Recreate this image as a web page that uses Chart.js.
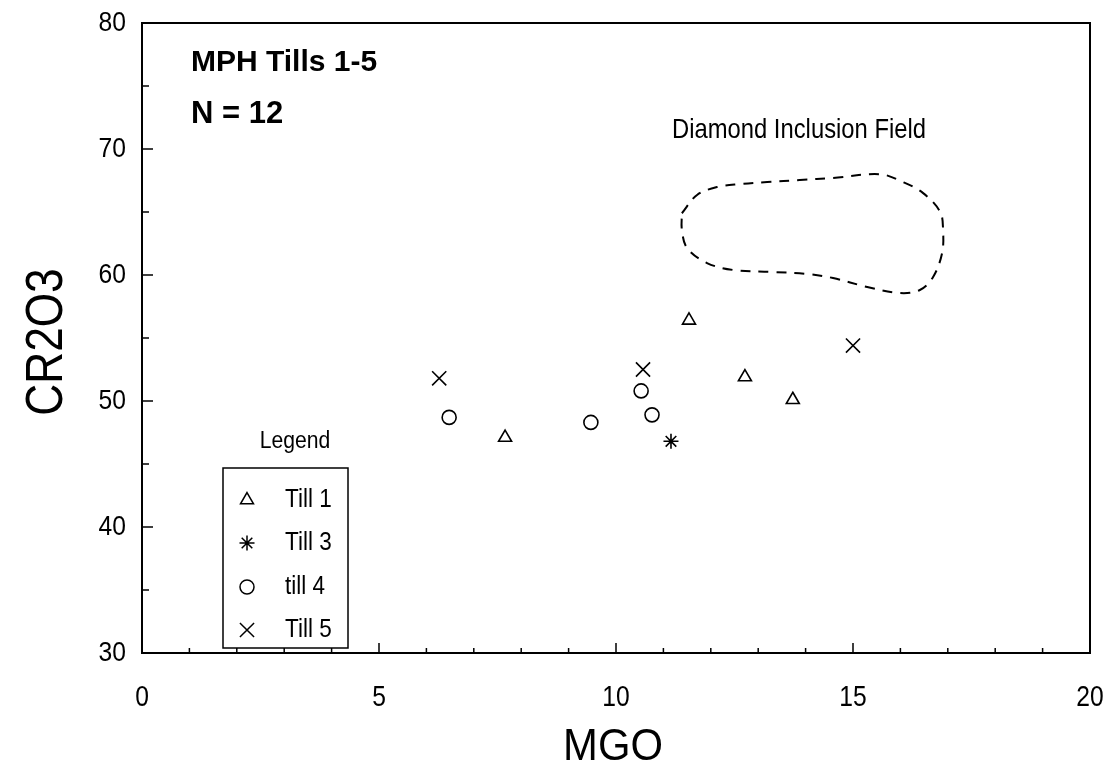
<!DOCTYPE html>
<html>
<head>
<meta charset="utf-8">
<script src="https://cdn.jsdelivr.net/npm/chart.js@4.4.1/dist/chart.umd.min.js"></script>
<style>
  html, body { margin: 0; padding: 0; background: #fff; }
  #wrap { width: 1120px; height: 774px; }
</style>
</head>
<body>
<div id="wrap"><canvas id="myChart" width="1120" height="774"></canvas></div>
<script>
// values
const xTicks = [0, 5, 10, 15, 20];
const yTicks = [30, 40, 50, 60, 70, 80];

const till1X = [7.66, 11.54, 12.72, 13.73];
const till1Y = [47.1, 56.4, 51.9, 50.1];
const till3X = [11.16];
const till3Y = [46.8];
const till4X = [6.48, 9.47, 10.53, 10.76];
const till4Y = [48.7, 48.3, 50.8, 48.9];
const till5X = [6.27, 10.57, 15.0];
const till5Y = [51.8, 52.5, 54.4];

// outline of the diamond inclusion field (closed)
const fieldX = [11.39, 11.71, 12.13, 12.62, 13.19, 13.88, 14.58, 15.57, 16.05, 16.48, 16.84, 16.90,
  16.88, 16.69, 16.41, 15.99, 15.30, 14.58, 14.03, 13.31, 12.47, 11.92, 11.50, 11.39, 11.39];
const fieldY = [64.9, 66.35, 66.98, 67.22, 67.38, 67.54, 67.7, 68.0, 67.38, 66.5, 65.0, 63.57,
  61.75, 59.84, 58.81, 58.57, 59.05, 59.76, 60.08, 60.24, 60.4, 60.95, 62.14, 63.57, 64.9];

const seriesNames = ['Till 1', 'Till 3', 'till 4', 'Till 5'];
const seriesStyles = ['triangle', 'star', 'circle', 'crossRot'];
const seriesRadius = [7.5, 7.5, 7, 10];

const face = "'Liberation Sans', Arial, sans-serif";

const pts = (xs, ys) => xs.map((x, i) => ({ x: x, y: ys[i] }));

function markerSet(i, xs, ys) {
  return {
    label: seriesNames[i],
    data: pts(xs, ys),
    pointStyle: seriesStyles[i],
    pointRadius: seriesRadius[i],
    pointBorderColor: '#000',
    pointBackgroundColor: 'rgba(0,0,0,0)',
    pointBorderWidth: 1.6,
    showLine: false
  };
}

// the scan uses a condensed Helvetica, so squeeze the text horizontally
function squeezed(c, text, x, y, size, align, k, rot, weight) {
  c.save();
  c.font = (weight || 'normal') + ' ' + size + 'px ' + face;
  c.textAlign = align;
  c.textBaseline = 'middle';
  c.translate(x, y);
  if (rot) c.rotate(rot);
  c.scale(k, 1);
  c.fillText(text, 0, 0);
  c.restore();
}

// frame, inward ticks, tick labels, titles, notes and the boxed legend
const extras = {
  id: 'extras',
  afterDraw(chart) {
    const c = chart.ctx;
    const a = chart.chartArea;
    const sx = chart.scales.x, sy = chart.scales.y;
    c.save();
    c.strokeStyle = '#000';
    c.fillStyle = '#000';
    c.lineWidth = 2;
    c.strokeRect(a.left, a.top, a.right - a.left, a.bottom - a.top);

    c.lineWidth = 1.5;
    c.beginPath();
    for (let v = 0; v <= 20; v++) {
      const px = sx.getPixelForValue(v);
      const len = v % 5 === 0 ? 10 : 5;
      c.moveTo(px, a.bottom);
      c.lineTo(px, a.bottom - len);
    }
    for (let v = 30; v <= 80; v += 5) {
      const py = sy.getPixelForValue(v);
      const len = v % 10 === 0 ? 11 : 7;
      c.moveTo(a.left, py);
      c.lineTo(a.left + len, py);
    }
    c.stroke();

    xTicks.forEach(v => squeezed(c, String(v), sx.getPixelForValue(v), a.bottom + 45, 29, 'center', 0.85));
    yTicks.forEach(v => squeezed(c, String(v), a.left - 16, sy.getPixelForValue(v), 28, 'right', 0.88));

    squeezed(c, 'MGO', 613, 748, 44, 'center', 0.95);
    squeezed(c, 'CR2O3', 48, 342, 52, 'center', 0.85, -Math.PI / 2);

    squeezed(c, 'MPH Tills 1-5', 191, 63, 30, 'left', 1, 0, 'bold');
    squeezed(c, 'N = 12', 191, 114, 31, 'left', 1, 0, 'bold');

    squeezed(c, 'Diamond Inclusion Field', 672, 130, 28, 'left', 0.85);
    squeezed(c, 'Legend', 295, 442, 23, 'center', 0.92);

    c.lineWidth = 1.5;
    c.strokeRect(223, 468, 125, 180);
    const rows = [500, 543, 587, 630];
    rows.forEach((ry, i) => {
      c.fillStyle = 'rgba(0,0,0,0)';
      Chart.helpers.drawPoint(c, {
        pointStyle: seriesStyles[i], radius: seriesRadius[i], rotation: 0, borderWidth: 1.6
      }, 247, ry);
      c.fillStyle = '#000';
      squeezed(c, seriesNames[i], 285, ry, 25, 'left', 0.9);
    });
    c.restore();
  }
};

const ctx = document.getElementById('myChart').getContext('2d');

new Chart(ctx, {
  type: 'scatter',
  data: {
    datasets: [
      markerSet(0, till1X, till1Y),
      markerSet(1, till3X, till3Y),
      markerSet(2, till4X, till4Y),
      markerSet(3, till5X, till5Y),
      {
        label: 'Diamond Inclusion Field',
        data: pts(fieldX, fieldY),
        showLine: true,
        borderColor: '#000',
        borderWidth: 2,
        borderDash: [10, 8],
        pointRadius: 0,
        tension: 0.35,
        fill: false
      }
    ]
  },
  options: {
    responsive: false,
    animation: false,
    layout: { padding: { left: 0, right: 30, top: 23, bottom: 0 } },
    plugins: {
      legend: { display: false },
      tooltip: { enabled: false }
    },
    scales: {
      x: {
        type: 'linear',
        min: 0, max: 20,
        afterBuildTicks: s => { s.ticks = xTicks.map(v => ({ value: v })); },
        afterFit: s => { s.height = 121; },
        grid: { display: false, drawTicks: false },
        border: { display: false },
        ticks: { display: false }
      },
      y: {
        type: 'linear',
        min: 30, max: 80,
        afterBuildTicks: s => { s.ticks = yTicks.map(v => ({ value: v })); },
        afterFit: s => { s.width = 142; },
        grid: { display: false, drawTicks: false },
        border: { display: false },
        ticks: { display: false }
      }
    }
  },
  plugins: [extras]
});
</script>
</body>
</html>
